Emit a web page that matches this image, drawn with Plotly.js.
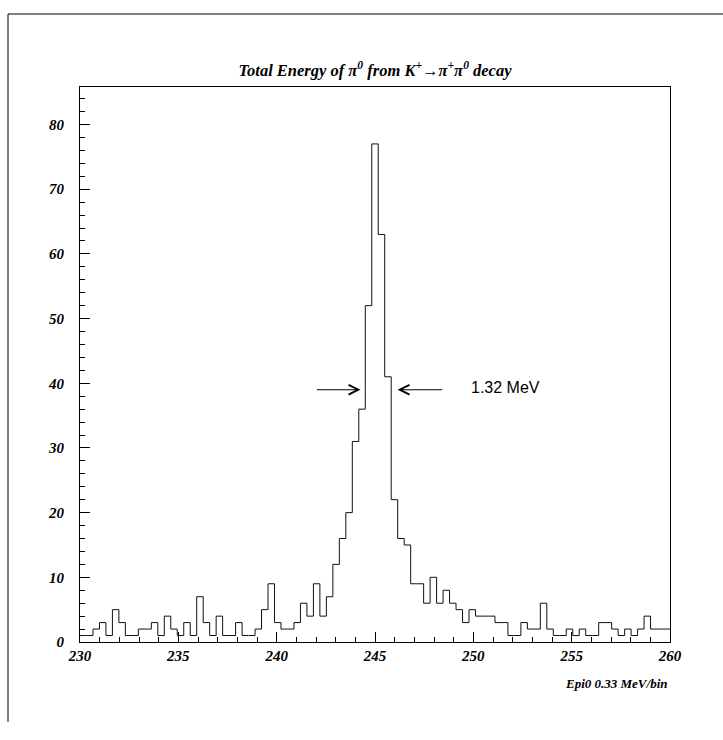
<!DOCTYPE html>
<html>
<head>
<meta charset="utf-8">
<script src="https://cdn.plot.ly/plotly-3.0.1.min.js"></script>
<style>body{margin:0;background:#fff;} #chart{width:723px;height:740px;}</style>
</head>
<body>
<div id="chart"></div>
<script>
// Histogram: Epi0, 91 bins from 230 to 260 MeV (0.33 MeV/bin)
const binLo = 230;
const binHi = 260;
const nBins = 91;
const counts = [
  1,1,2,3,1,5,3,1,1,2,
  2,3,1,4,2,1,3,1,7,3,
  1,4,1,1,3,1,1,2,5,9,
  3,2,2,3,6,4,9,4,7,12,
  16,20,31,36,52,77,63,41,22,16,
  15,9,9,6,10,6,8,6,5,3,
  5,4,4,4,3,3,1,1,3,2,
  2,6,2,1,1,2,1,2,1,1,
  3,3,2,1,2,1,2,4,2,2,
  2
];
const xTickVals = [230, 235, 240, 245, 250, 255, 260];
const yTickVals = [0, 10, 20, 30, 40, 50, 60, 70, 80];
const fwhmLabel = "1.32 MeV";
const halfMax = 39;
const leftArrow = [241.97, 244.26];
const rightArrow = [248.49, 246.15];

const w = (binHi - binLo) / nBins;
const xs = [], ys = [];
for (let i = 0; i < nBins; i++) { xs.push(binLo + i * w); ys.push(counts[i]); }
xs.push(binHi); ys.push(counts[nBins - 1]);

const tickFont = {family: "Liberation Serif", size: 15, color: "#000", weight: "bold", style: "italic"};

const trace = {
  type: "scatter", mode: "lines", x: xs, y: ys,
  line: {shape: "hv", color: "#111", width: 1},
  hoverinfo: "skip"
};

const L = 80, R = 670, T = 87, B = 642, W = 723, H = 740;
const px = v => (v - L) / (R - L);
const py = v => (B - v) / (B - T);

const layout = {
  width: W, height: H,
  margin: {l: L, r: W - R, t: T, b: H - B, pad: 0},
  paper_bgcolor: "#fff", plot_bgcolor: "#fff",
  showlegend: false,
  title: {
    text: "Total Energy of π<sup>0</sup> from K<sup>+</sup>→π<sup>+</sup>π<sup>0</sup> decay",
    font: {family: "Liberation Serif", size: 16.5, color: "#000", weight: "bold", style: "italic"},
    x: 0.5, xref: "paper", xanchor: "center",
    y: 1 - 70 / H, yref: "container", yanchor: "middle"
  },
  xaxis: {
    range: [binLo, binHi], tickvals: xTickVals, ticktext: xTickVals.map(String),
    ticks: "inside", ticklen: 10, tickwidth: 1, tickcolor: "#000",
    minor: {dtick: 1, ticks: "inside", ticklen: 5, tickwidth: 1, tickcolor: "#000"},
    showline: true, linecolor: "#000", linewidth: 1, mirror: true,
    showgrid: false, zeroline: false, tickfont: tickFont
  },
  yaxis: {
    range: [0, 85.8], tickvals: yTickVals, ticktext: yTickVals.map(String),
    ticks: "inside", ticklen: 10, tickwidth: 1, tickcolor: "#000",
    minor: {dtick: 2, ticks: "inside", ticklen: 5, tickwidth: 1, tickcolor: "#000"},
    showline: true, linecolor: "#000", linewidth: 1, mirror: true,
    showgrid: false, zeroline: false, tickfont: tickFont, ticklabelstandoff: 12
  },
  annotations: [
    {x: leftArrow[1], y: halfMax, ax: leftArrow[0], ay: halfMax, axref: "x", ayref: "y",
     xref: "x", yref: "y", text: "", showarrow: true, arrowhead: 5, arrowsize: 1.6,
     arrowwidth: 1.2, arrowcolor: "#000"},
    {x: rightArrow[1], y: halfMax, ax: rightArrow[0], ay: halfMax, axref: "x", ayref: "y",
     xref: "x", yref: "y", text: "", showarrow: true, arrowhead: 5, arrowsize: 1.6,
     arrowwidth: 1.2, arrowcolor: "#000"},
    {x: 249.8, y: halfMax + 0.4, xref: "x", yref: "y", text: fwhmLabel, showarrow: false,
     xanchor: "left", yanchor: "middle",
     font: {family: "Liberation Sans", size: 16, color: "#000"}},
    {x: 1, y: py(683), xref: "paper", yref: "paper", text: "Epi0 0.33 MeV/bin",
     showarrow: false, xanchor: "right", yanchor: "middle",
     font: {family: "Liberation Serif", size: 13, color: "#000", weight: "bold", style: "italic"}}
  ],
  shapes: [
    {type: "line", xref: "paper", yref: "paper", x0: px(8), x1: px(723), y0: py(14), y1: py(14),
     line: {color: "#000", width: 1}},
    {type: "line", xref: "paper", yref: "paper", x0: px(8), x1: px(8), y0: py(14), y1: py(722),
     line: {color: "#000", width: 1}}
  ]
};

Plotly.newPlot("chart", [trace], layout, {displayModeBar: false, staticPlot: true});
</script>
</body>
</html>
